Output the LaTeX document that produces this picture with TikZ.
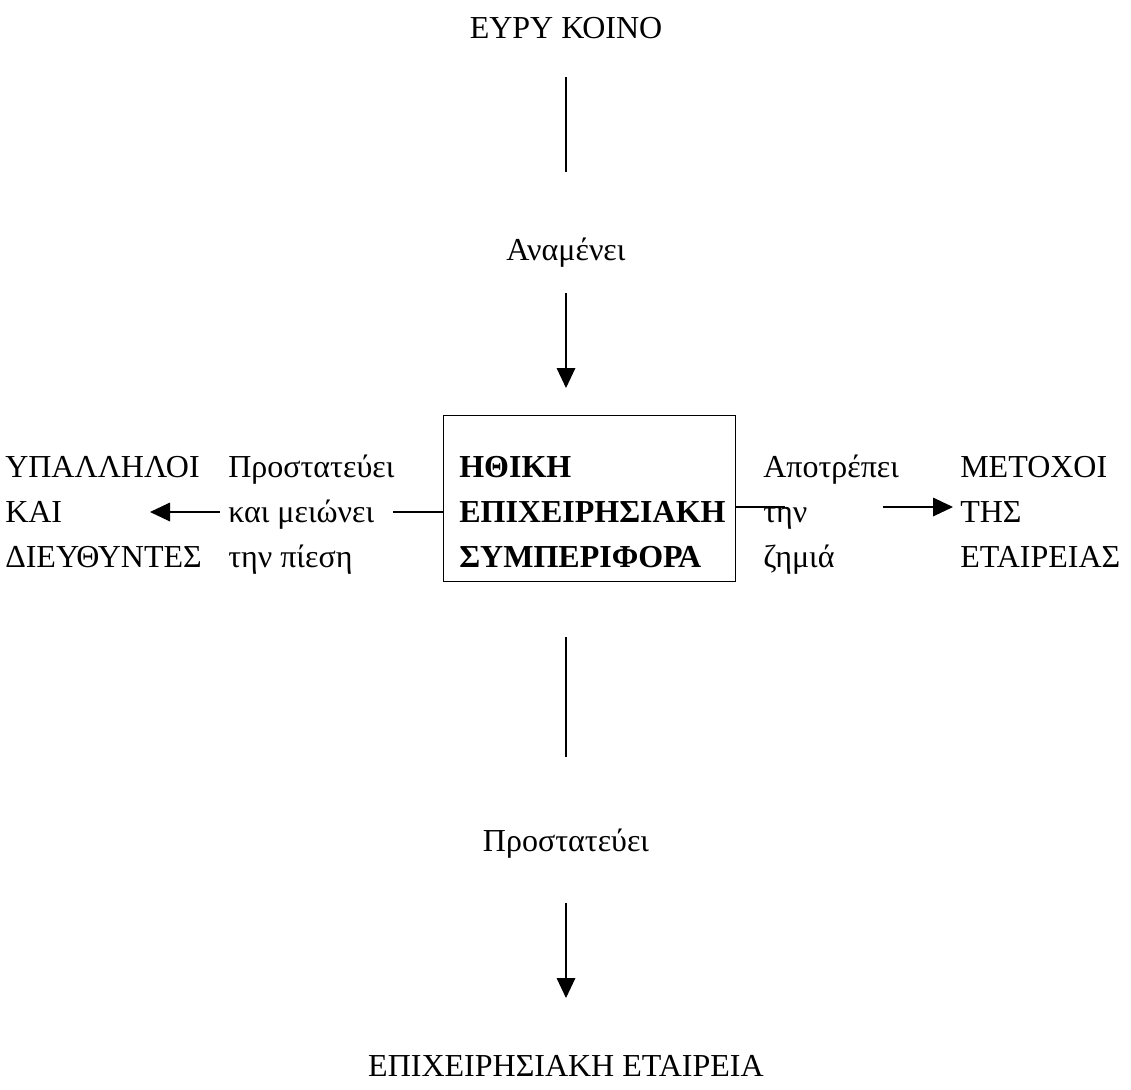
\documentclass[tikz,border=0pt]{standalone}
\usepackage{fontspec}
\setmainfont{Liberation Serif}
\usetikzlibrary{arrows.meta}

\tikzset{
  rowtext/.style={anchor=base west, inner sep=0pt, font=\fontsize{24}{28}\selectfont},
  midtext/.style={anchor=base, inner sep=0pt, font=\fontsize{24}{28}\selectfont},
  boldrow/.style={rowtext, font=\bfseries\fontsize{24}{28}\selectfont},
  frame/.style={draw, line width=0.9pt, inner sep=0pt, minimum width=219pt, minimum height=125pt},
  flow/.style={-{Triangle[length=15pt,width=14pt]}, line width=0.9pt},
  bar/.style={-, line width=0.9pt}
}

\begin{document}
\begin{tikzpicture}[x=0.75pt, y=-0.75pt]
  \useasboundingbox (0,0) rectangle (1131,1089);

  % top: public
  \node[midtext] (public) at (566,38) {ΕΥΡΥ ΚΟΙΝΟ};
  \coordinate (publicA) at (566,77);
  \coordinate (publicB) at (566,172);
  \draw [bar] (publicA) -- (publicB);
  \node[midtext] (expects) at (566,260) {Αναμένει};
  \coordinate (expectsA) at (566,293);
  \coordinate (expectsB) at (566,388);
  \draw [flow] (expectsA) -- (expectsB);

  % centre box
  \node[frame] (ethics) at (589.5,498.5) {};
  \node[boldrow] (ethics1) at (459,477) {ΗΘΙΚΗ};
  \node[boldrow] (ethics2) at (459,522) {ΕΠΙΧΕΙΡΗΣΙΑΚΗ};
  \node[boldrow] (ethics3) at (459,567) {ΣΥΜΠΕΡΙΦΟΡΑ};

  % left: staff
  \node[rowtext] (staff1) at (5,477) {ΥΠΑΛΛΗΛΟΙ};
  \node[rowtext] (staff2) at (5,522) {ΚΑΙ};
  \node[rowtext] (staff3) at (5,567) {ΔΙΕΥΘΥΝΤΕΣ};
  \node[rowtext] (guard1) at (228,477) {Προστατεύει};
  \node[rowtext] (guard2) at (228,522) {και μειώνει};
  \node[rowtext] (guard3) at (228,567) {την πίεση};
  \coordinate (staffEnd) at (393,512);
  \coordinate (staffFrom) at (220,512);
  \coordinate (staffTip) at (150,512);
  \draw [bar] (ethics.west |- staffEnd) -- (staffEnd);
  \draw [flow] (staffFrom) -- (staffTip);

  % right: shareholders
  \node[rowtext] (avert1) at (763,477) {Αποτρέπει};
  \node[rowtext] (avert2) at (763,522) {την};
  \node[rowtext] (avert3) at (763,567) {ζημιά};
  \node[rowtext] (owners1) at (960,477) {ΜΕΤΟΧΟΙ};
  \node[rowtext] (owners2) at (960,522) {ΤΗΣ};
  \node[rowtext] (owners3) at (960,567) {ΕΤΑΙΡΕΙΑΣ};
  \coordinate (ownersEnd) at (785,507);
  \coordinate (ownersFrom) at (883,507);
  \coordinate (ownersTip) at (953,507);
  \draw [bar] (ethics.east |- ownersEnd) -- (ownersEnd);
  \draw [flow] (ownersFrom) -- (ownersTip);

  % bottom: company
  \coordinate (firmA) at (566,637);
  \coordinate (firmB) at (566,757);
  \draw [bar] (firmA) -- (firmB);
  \node[midtext] (shields) at (566,851) {Προστατεύει};
  \coordinate (shieldsA) at (566,903);
  \coordinate (shieldsB) at (566,998);
  \draw [flow] (shieldsA) -- (shieldsB);
  \node[midtext] (firm) at (566,1076) {ΕΠΙΧΕΙΡΗΣΙΑΚΗ ΕΤΑΙΡΕΙΑ};
\end{tikzpicture}
\end{document}
